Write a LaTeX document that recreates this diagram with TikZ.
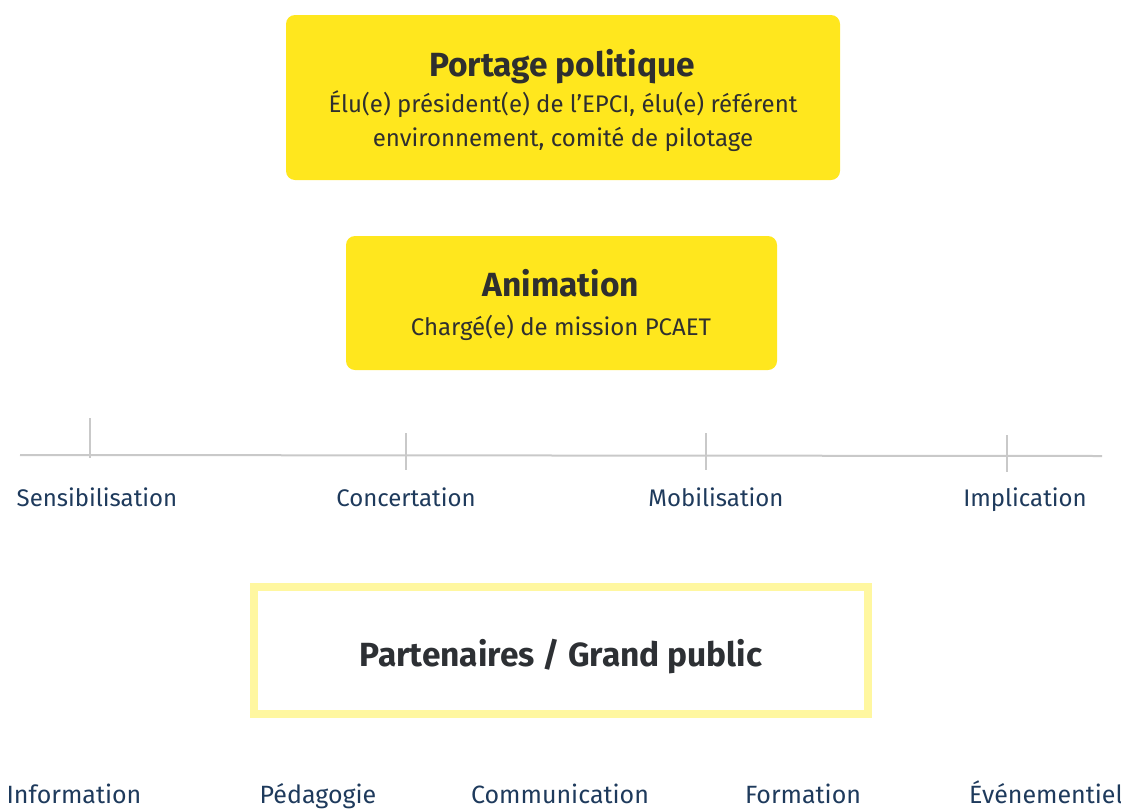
\documentclass[tikz,border=0pt]{standalone}
\usepackage{fontspec}
\setmainfont{Fira Sans}
\usetikzlibrary{positioning}
\definecolor{jaune}{HTML}{FFE71E}
\definecolor{jaunepale}{HTML}{FFF7A0}
\definecolor{texte}{HTML}{2F2F2F}
\definecolor{marine}{HTML}{1E3A5C}
\definecolor{trait}{HTML}{C9C9C9}
\begin{document}
\begin{tikzpicture}[x=1pt, y=-1pt,
 acteur/.style={fill=jaune, rounded corners=9pt, draw=none},
 titre/.style={font=\fontsize{33.5}{36}\selectfont\bfseries, text=texte, anchor=base, inner sep=0pt},
 detail/.style={font=\fontsize{24}{34}\selectfont, text=texte, align=center, anchor=base, inner sep=0pt},
 etape/.style={font=\fontsize{24}{28}\selectfont, text=marine, anchor=base, inner sep=0pt},
 outil/.style={font=\fontsize{25}{28}\selectfont, text=marine, anchor=base, inner sep=0pt},
 graduation/.style={draw=trait, line width=2.5pt}
]
\useasboundingbox (0,0) rectangle (1121,809);

% boxes
\fill[acteur] (286,15) rectangle (840,180);
\node (portage) at (562,76) [titre] {Portage politique};
\node (elus) at (563,146) [detail] {Élu(e) président(e) de l'EPCI, élu(e) référent\\environnement, comité de pilotage};

\fill[acteur] (346,236) rectangle (777,370);
\node (animation) at (561,296) [titre] {Animation};
\node (charge) at (561,335) [detail] {Chargé(e) de mission PCAET};

% scale of involvement
\coordinate (debut) at (20,455);
\coordinate (fin) at (1102,456);
\draw[draw=trait, line width=2pt] (debut) -- (fin);
\foreach \x/\ya/\yb/\lx/\nom [count=\i] in {90/418/458/97/Sensibilisation, 406/433/470/406/Concertation, 706/433/470/716/Mobilisation, 1007/435/472/1025/Implication} {
 \draw[graduation] (\x,\ya) -- (\x,\yb);
 \node (etape\i) at (\lx,506) [etape] {\nom};
}

% public
\draw[draw=jaunepale, line width=8pt] (254,587) rectangle (868,714);
\node (public) at (561,666) [titre, text=texte!90!marine] {Partenaires / Grand public};

% tools
\foreach \x/\nom [count=\i] in {74/Information, 318/Pédagogie, 560/Communication, 803/Formation, 1046/Événementiel} {
 \node (outil\i) at (\x,803) [outil] {\nom};
}
\end{tikzpicture}
\end{document}
